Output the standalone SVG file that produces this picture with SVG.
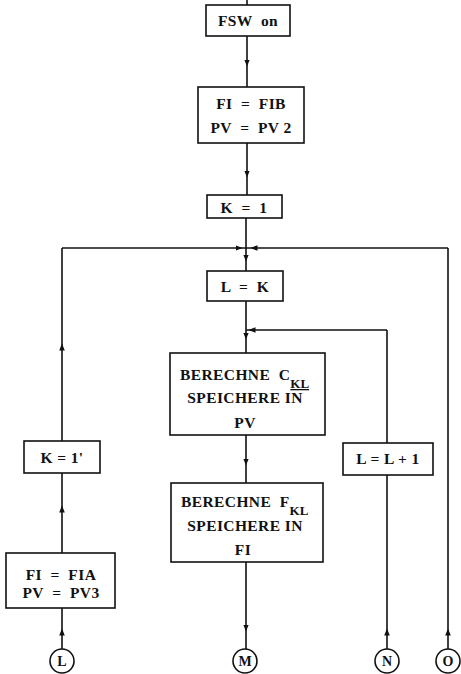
<svg xmlns="http://www.w3.org/2000/svg" width="461" height="674" viewBox="0 0 461 674">
<style>
.b{fill:#fff;stroke:#111;stroke-width:1.6}
.c{fill:#fff;stroke:#111;stroke-width:1.6}
.l{fill:none;stroke:#111;stroke-width:1.6}
text{font-family:"Liberation Serif","DejaVu Serif",serif;font-weight:bold;font-size:15.5px;letter-spacing:0.4px;fill:#111;text-anchor:middle;white-space:pre}
.s{font-size:13px;letter-spacing:0}
.o{font-size:14px;letter-spacing:0}
</style>
<defs>
<marker id="ah" viewBox="0 0 10 10" refX="5" refY="5" markerWidth="7" markerHeight="7" markerUnits="userSpaceOnUse" orient="auto">
<path d="M0,1 L10,5 L0,9 Z" fill="#111"/>
</marker>
</defs>
<rect width="461" height="674" fill="#fff"/>
<g id="connectors">
<path class="l" d="M247,0 V5"/>
<path class="l" d="M247,36 V63 V87" marker-mid="url(#ah)"/>
<path class="l" d="M247,143 V174 V195" marker-mid="url(#ah)"/>
<path class="l" d="M246,218 V248"/>
<path class="l" d="M246,248 V258 V271" marker-mid="url(#ah)"/>
<path class="l" d="M62,441 V347 V248" marker-mid="url(#ah)"/>
<path class="l" d="M62,248 H239 H246" marker-mid="url(#ah)"/>
<path class="l" d="M448,649 V632 V248" marker-mid="url(#ah)"/>
<path class="l" d="M448,248 H254 H246" marker-mid="url(#ah)"/>
<path class="l" d="M246,301 V330"/>
<path class="l" d="M246,330 V336 V353" marker-mid="url(#ah)"/>
<path class="l" d="M387,443 V330"/>
<path class="l" d="M387,330 H252 H246" marker-mid="url(#ah)"/>
<path class="l" d="M246,435 V462 V483" marker-mid="url(#ah)"/>
<path class="l" d="M246,562 V628 V649" marker-mid="url(#ah)"/>
<path class="l" d="M62,553 V509 V473" marker-mid="url(#ah)"/>
<path class="l" d="M62,649 V632 V608" marker-mid="url(#ah)"/>
<path class="l" d="M387,649 V632 V475" marker-mid="url(#ah)"/>
</g>
<g id="n-fsw"><rect class="b" x="206" y="5" width="84" height="31"/><text x="248" y="26">FSW  on</text></g>
<g id="n-fib"><rect class="b" x="198" y="87" width="106" height="56"/><text x="251" y="109">FI  =  FIB</text><text x="251" y="133">PV  =  PV 2</text></g>
<g id="n-k1"><rect class="b" x="207" y="195" width="75" height="23"/><text x="244" y="213">K  =  1</text></g>
<g id="n-lk"><rect class="b" x="207" y="271" width="76" height="30"/><text x="245" y="292">L  =  K</text></g>
<g id="n-ckl"><rect class="b" x="170" y="353" width="155" height="82"/>
<text x="180" y="380" style="text-anchor:start">BERECHNE  C<tspan dy="8" class="s" text-decoration="underline">KL</tspan></text>
<text x="245" y="403">SPEICHERE IN</text><text x="245" y="428">PV</text></g>
<g id="n-fkl"><rect class="b" x="171" y="483" width="152" height="79"/>
<text x="181" y="507" style="text-anchor:start">BERECHNE  F<tspan dy="8" class="s">KL</tspan></text>
<text x="245" y="531">SPEICHERE IN</text><text x="243" y="555">FI</text></g>
<g id="n-k1p"><rect class="b" x="24" y="441" width="76" height="32"/><text x="62" y="463">K = 1'</text></g>
<g id="n-ll1"><rect class="b" x="343" y="443" width="90" height="32"/><text x="388" y="464">L = L + 1</text></g>
<g id="n-fia"><rect class="b" x="6" y="553" width="109" height="55"/><text x="61" y="580">FI  =  FIA</text><text x="61" y="598">PV  =  PV3</text></g>
<g id="c-l"><circle class="c" cx="62" cy="661" r="12"/><text class="o" x="62" y="666">L</text></g>
<g id="c-m"><circle class="c" cx="245" cy="661" r="12"/><text class="o" x="245" y="666">M</text></g>
<g id="c-n"><circle class="c" cx="387" cy="661" r="12"/><text class="o" x="387" y="666">N</text></g>
<g id="c-o"><circle class="c" cx="448" cy="661" r="12"/><text class="o" x="448" y="666">O</text></g>
</svg>
